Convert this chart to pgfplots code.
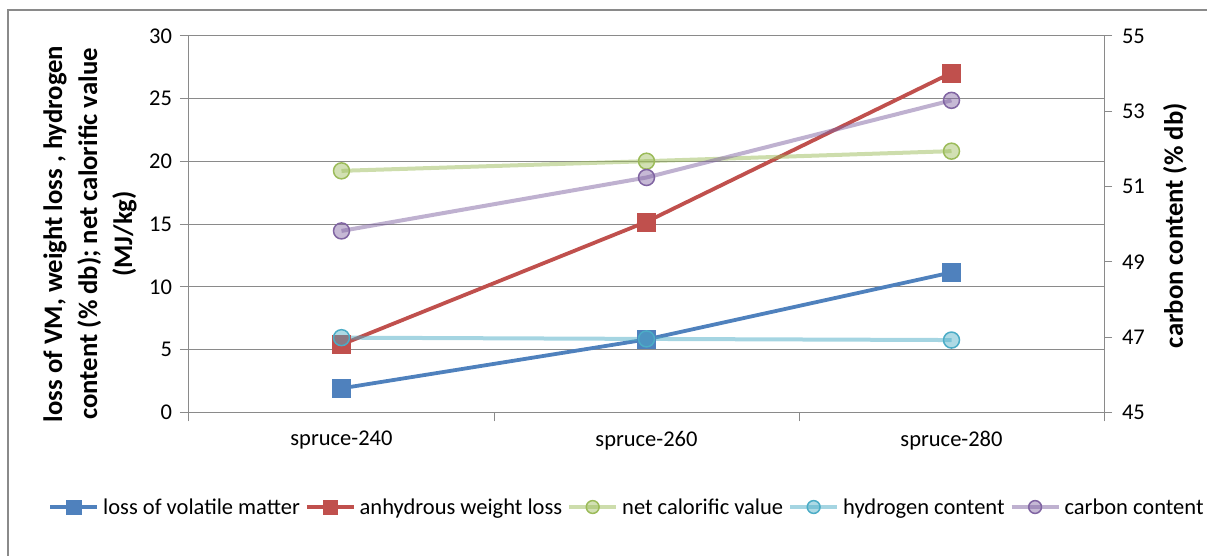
\documentclass[border=0pt]{standalone}
\usepackage{pgfplots}
\pgfplotsset{compat=1.18}
\usepackage{fontspec}
\setmainfont{Carlito}
\usetikzlibrary{calc}

\definecolor{cBlue}{HTML}{4F81BD}
\definecolor{cRed}{HTML}{C0504D}
\definecolor{cGreen}{HTML}{9BBB59}
\definecolor{cCyan}{HTML}{4BACC6}
\definecolor{cPurple}{HTML}{8064A2}
\definecolor{gridgray}{HTML}{8A8A8A}

\pgfplotsset{
  sq/.style={color=#1, line width=3.8bp, mark=square*, mark size=9bp,
    mark options={solid, fill=#1, draw=#1, line width=0.5bp}},
  ci/.style={draw=#1, draw opacity=0.5, line width=4bp, mark=*, mark size=8bp,
    mark options={solid, draw=#1, draw opacity=1, fill=#1, fill opacity=0.45, line width=1.5bp}},
  tickfont/.style={font=\fontsize{22.5bp}{27bp}\selectfont},
  common/.style={
    scale only axis, width=915bp, height=376.3bp,
    xmin=-0.5, xmax=2.5,
    axis line style={gridgray, line width=1bp},
    tick style={gridgray, line width=1bp},
    tick align=outside, major tick length=8bp,
    /pgf/number format/assume math mode=true,
    tick label style={tickfont, black},
  },
}

\begin{document}
\begin{tikzpicture}
\begin{axis}[
  common, name=main,
  major tick length=9bp,
  ymin=0, ymax=30,
  axis x line*=bottom, axis y line*=left,
  xtick={-0.5,0.5,1.5,2.5}, xticklabels={},
  extra x ticks={0,1,2},
  extra x tick labels={spruce-240,spruce-260,spruce-280},
  extra x tick style={major tick length=0pt, xticklabel style={yshift=-15bp}},
  ytick={0,5,...,30},
  yticklabel style={xshift=-4.5bp},
  ymajorgrids, grid style={gridgray, line width=1bp},
  ylabel={loss of VM, weight loss , hydrogen\\content (\% db); net calorific value\\(MJ/kg)},
  ylabel style={at={(axis description cs:-0.1082,0.474)}, anchor=center,
    align=center, font=\fontsize{26.7bp}{35bp}\selectfont\bfseries},
  legend columns=-1,
  legend style={at={(axis description cs:0.4776,-0.2517)}, anchor=center,
    draw=none, fill=none, tickfont, inner xsep=0pt, column sep=4bp,
    nodes={inner xsep=0bp, inner ysep=2bp},
    /tikz/every even column/.append style={column sep=5bp}},
  legend image code/.code={
    \draw[mark repeat=2, mark phase=2, every mark/.append style={scale=0.8}]
      plot coordinates {(0bp,0bp) (23.5bp,0bp) (47bp,0bp)};},
]
\addplot[sq=cBlue] coordinates {(0,1.91) (1,5.81) (2,11.15)};
\addlegendentry{loss of volatile matter}
\addplot[sq=cRed] coordinates {(0,5.40) (1,15.19) (2,27.06)};
\addlegendentry{anhydrous weight loss}
\addplot[ci=cGreen] coordinates {(0,19.25) (1,20.02) (2,20.82)};
\addlegendentry{net calorific value}
\addplot[ci=cCyan] coordinates {(0,5.95) (1,5.85) (2,5.76)};
\addlegendentry{hydrogen content}
\addlegendimage{ci=cPurple}
\addlegendentry{carbon content}
\end{axis}

\begin{axis}[
  common,
  ymin=45, ymax=55,
  axis x line=none, axis y line*=right,
  ytick={45,47,...,55},
  yticklabel style={xshift=6.5bp},
  ylabel={carbon content (\% db)},
  ylabel style={at={(axis description cs:1.0776,0.496)}, anchor=center,
    font=\fontsize{26.7bp}{32bp}\selectfont\bfseries},
]
\addplot[ci=cPurple] coordinates {(0,49.82) (1,51.24) (2,53.29)};
\end{axis}

\coordinate (O) at ($(main.south west)+(-189bp,-143.7bp)$);
\draw[gridgray, line width=1.5bp] ($(O)+(8bp,0bp)$) -- ($(O)+(8bp,546bp)$) -- ($(O)+(1207bp,546bp)$);
\pgfresetboundingbox
\path[use as bounding box] (O) rectangle ($(O)+(1207bp,556bp)$);
\end{tikzpicture}
\end{document}
